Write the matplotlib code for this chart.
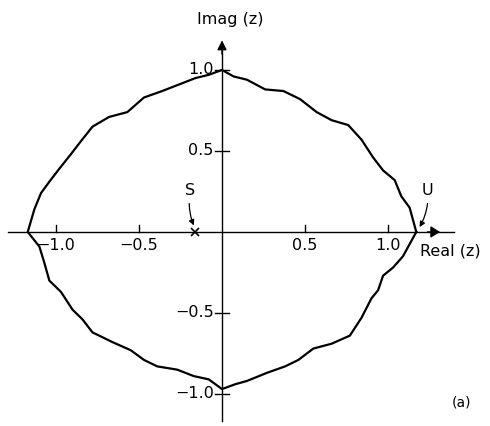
import matplotlib.pyplot as plt

# boundary contour in the complex z plane (counterclockwise from the right crossing)
contour_real = [1.17, 1.13, 1.08, 1.04, 0.97, 0.91, 0.84, 0.76, 0.66, 0.57, 0.47, 0.37, 0.26, 0.15, 0.07, 0.0,
                -0.08, -0.16, -0.26, -0.36, -0.47, -0.57, -0.68, -0.78, -0.85, -0.91, -0.98, -1.04, -1.09, -1.13, -1.17,
                -1.10, -1.07, -1.04, -0.97, -0.90, -0.84, -0.78, -0.66, -0.55, -0.47, -0.39, -0.27, -0.17, -0.08, 0.0,
                0.08, 0.15, 0.27, 0.38, 0.46, 0.55, 0.66, 0.77, 0.84, 0.90, 0.94, 0.97, 1.03, 1.09, 1.17]
contour_imag = [0.0, 0.15, 0.22, 0.32, 0.38, 0.46, 0.57, 0.66, 0.69, 0.74, 0.82, 0.87, 0.88, 0.94, 0.96, 1.0,
                0.97, 0.95, 0.91, 0.87, 0.83, 0.74, 0.71, 0.65, 0.56, 0.48, 0.39, 0.31, 0.24, 0.14, 0.0,
                -0.09, -0.19, -0.30, -0.37, -0.48, -0.54, -0.62, -0.68, -0.73, -0.79, -0.83, -0.85, -0.89, -0.91, -0.97,
                -0.94, -0.92, -0.87, -0.83, -0.79, -0.72, -0.69, -0.64, -0.53, -0.41, -0.36, -0.27, -0.22, -0.15, 0.0]

x_ticks = [-1.0, -0.5, 0.5, 1.0]
x_tick_labels = ["\u22121.0", "\u22120.5", "0.5", "1.0"]
y_ticks = [1.0, 0.5, -0.5, -1.0]
y_tick_labels = ["1.0", "0.5", "\u22120.5", "\u22121.0"]

s_point = (-0.16, 0.0)
u_point = (1.17, 0.0)

fig = plt.figure(figsize=(4.9, 4.26), dpi=100)
ax = fig.add_axes([0, 0, 1, 1])
ax.set_xlim(-1.337, 1.614)
ax.set_ylim(-1.198, 1.432)
ax.axis("off")

fs = 11.5
# coordinate axes with arrow heads
ax.plot([-1.29, 1.40], [0, 0], color="k", lw=1.0)
ax.annotate("", xy=(1.33, 0), xytext=(1.22, 0),
            arrowprops=dict(arrowstyle="-|>,head_width=0.25", color="k", lw=1.0, mutation_scale=14))
ax.plot([0, 0], [-1.17, 1.13], color="k", lw=1.0)
ax.annotate("", xy=(0, 1.20), xytext=(0, 1.08),
            arrowprops=dict(arrowstyle="-|>,head_width=0.2", color="k", lw=1.0, mutation_scale=14))

for t, lab in zip(x_ticks, x_tick_labels):
    ax.plot([t, t], [0, 0.045], color="k", lw=1.0)
    ax.text(t, -0.035, lab, ha="center", va="top", fontsize=fs)
for t, lab in zip(y_ticks, y_tick_labels):
    ax.plot([-0.04, 0.04], [t, t], color="k", lw=1.0)
    ax.text(-0.05, t, lab, ha="right", va="center", fontsize=fs)

ax.plot(contour_real, contour_imag, color="k", lw=1.6)

# critical points
ax.plot(*s_point, marker="x", color="k", markersize=6, mew=1.2)
ax.annotate("S", xy=(s_point[0] - 0.01, 0.04), xytext=(-0.19, 0.21),
            ha="center", va="bottom", fontsize=fs,
            arrowprops=dict(arrowstyle="-|>", color="k", lw=0.9, mutation_scale=8,
                            connectionstyle="arc3,rad=0.15", shrinkA=2, shrinkB=0))
ax.annotate("U", xy=(u_point[0] + 0.02, 0.03), xytext=(1.24, 0.21),
            ha="center", va="bottom", fontsize=fs,
            arrowprops=dict(arrowstyle="-|>", color="k", lw=0.9, mutation_scale=8,
                            connectionstyle="arc3,rad=-0.15", shrinkA=2, shrinkB=0))

ax.text(0.05, 1.31, "Imag (z)", ha="center", va="center", fontsize=fs)
ax.text(1.19, -0.12, "Real (z)", ha="left", va="center", fontsize=fs)
ax.text(1.44, -1.05, "(a)", ha="center", va="center", fontsize=10)

fig.savefig("out.png", dpi=100)
